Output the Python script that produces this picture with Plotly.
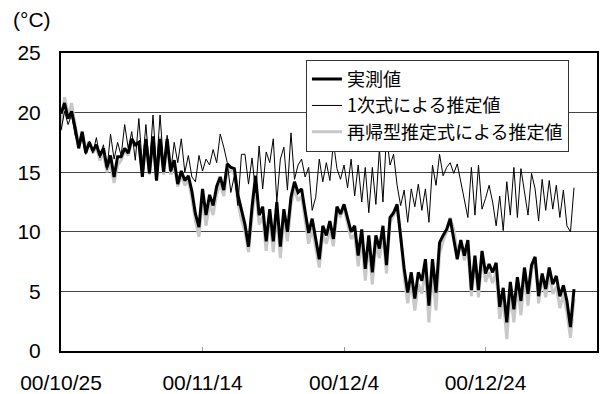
import pandas as pd
import plotly.graph_objects as go

# ---- data (2 readings per day, starting 2000-10-25) ----
measured = [
    19.9, 20.8, 19.5, 20.1, 18.7, 17.0, 18.4, 16.6, 17.5, 16.8, 17.3, 16.4, 17.0, 15.4, 16.4, 14.6, 16.3, 16.3, 17.0, 16.6,
    17.8, 17.3, 17.5, 14.6, 17.8, 14.9, 18.0, 14.3, 17.8, 15.0, 17.8, 15.1, 16.0, 14.0, 15.1, 14.3, 14.7, 13.4,
    11.5, 10.4, 13.6, 11.4, 13.1, 12.2, 13.8, 14.6, 13.5, 15.7, 15.4, 15.3, 13.1, 11.9, 10.6, 8.75, 12.1, 14.7, 11.4, 12.1,
    9.2, 11.9, 9.2, 12.5, 8.75, 11.9, 10.0, 12.9, 14.2, 13.3, 13.6, 11.7, 9.9, 11.1,
    9.4, 7.7, 10.5, 9.7, 10.9, 9.4, 12.1, 11.5, 12.3, 11.1, 10.0, 10.5, 8.0, 10.2, 6.9, 9.7, 6.6, 9.7, 8.6, 10.5,
    7.2, 11.2, 11.6, 12.3, 9.3, 6.9, 4.9, 6.6, 4.4, 6.6, 5.9, 7.7, 3.8, 7.7, 4.9, 9.1, 9.7,
    10.2, 11.1, 9.3, 7.7, 9.3, 8.0, 9.3, 5.1, 8.0, 5.1, 8.4, 6.5, 7.3, 6.6, 7.4, 3.7, 5.3, 2.4, 5.8, 3.5,
    6.2, 4.2, 7.0, 4.8, 7.2, 7.9, 4.6, 6.5, 5.2, 7.0, 5.6, 6.3, 4.6, 5.5, 4.2, 2.0, 5.2,
]
linear_est = [
    18.5, 20.1, 19.0, 19.8, 18.1, 17.2, 17.8, 16.5, 17.6, 16.6, 17.9, 16.2, 17.3, 15.2, 18.2, 16.1, 17.5, 16.4, 19.0, 17.0,
    18.4, 16.0, 19.5, 15.6, 19.0, 15.3, 19.8, 15.4, 19.8, 15.6, 18.1, 15.0, 17.5, 15.8, 17.8, 15.0, 16.4, 14.6,
    14.2, 16.4, 15.1, 16.1, 15.6, 16.9, 15.8, 18.2, 17.1, 15.8, 13.3, 14.7, 12.2, 16.5, 16.5, 14.0, 16.2, 13.3, 17.2, 13.6,
    16.7, 15.8, 17.8, 12.5, 16.1, 17.1, 13.5, 18.3, 14.4, 15.6, 16.1, 14.6, 15.4, 11.8,
    12.9, 16.1, 14.2, 15.8, 14.3, 17.5, 15.3, 14.4, 15.6, 13.7, 16.1, 13.0, 15.6, 12.5, 15.4, 11.6, 15.4, 12.3, 17.0, 12.5,
    18.1, 15.6, 16.5, 13.9, 12.2, 13.5, 10.8, 13.6, 12.1, 14.0, 11.8, 13.6, 10.8, 15.6, 13.9, 16.5, 14.7,
    15.4, 15.8, 14.9, 15.7, 14.2, 12.6, 11.2, 15.4, 11.4, 15.6, 11.9, 12.8, 13.9, 12.5, 10.5, 13.0, 10.1, 14.2, 11.4, 15.4,
    11.2, 15.3, 13.5, 11.4, 14.9, 13.6, 10.9, 14.4, 11.8, 14.3, 11.9, 13.9, 11.2, 13.5, 10.5, 10.0, 13.7,
]
recursive_est = [
    18.6, 21.3, 19.8, 20.8, 18.9, 17.4, 18.2, 16.9, 17.6, 16.6, 17.1, 16.0, 16.6, 15.0, 15.8, 14.1, 15.6, 16.0, 16.8, 16.4,
    17.6, 17.3, 17.6, 15.0, 17.6, 14.8, 17.7, 14.5, 18.0, 14.8, 17.4, 14.8, 15.6, 13.8, 14.7, 13.9, 14.3, 12.8,
    10.9, 9.6, 12.8, 10.5, 12.4, 11.4, 13.2, 14.0, 13.0, 15.2, 15.1, 14.9, 12.5, 11.0, 10.0, 8.3, 11.3, 13.9, 10.6, 11.3,
    8.4, 11.2, 8.3, 11.7, 7.8, 11.1, 9.2, 12.3, 13.6, 12.6, 13.0, 10.9, 9.0, 10.3,
    8.8, 7.0, 9.8, 9.0, 10.2, 8.8, 11.6, 11.3, 12.0, 10.7, 9.4, 9.8, 7.1, 9.4, 5.9, 9.0, 5.6, 9.0, 7.8, 9.8,
    6.5, 10.8, 11.4, 12.0, 9.8, 6.2, 4.0, 5.8, 3.4, 5.6, 4.8, 6.8, 2.4, 6.6, 3.4, 8.2, 9.2,
    10.0, 11.2, 10.2, 8.3, 9.0, 7.6, 8.6, 4.6, 7.4, 4.5, 7.8, 5.8, 6.6, 5.7, 6.6, 2.7, 4.4, 1.0, 4.8, 2.4,
    5.4, 3.0, 6.3, 3.8, 6.8, 7.7, 4.0, 6.2, 4.5, 6.4, 4.8, 5.4, 3.6, 4.8, 3.2, 1.1, 4.4,
]
tick_dates = ["2000-10-25", "2000-11-14", "2000-12-04", "2000-12-24"]
tick_labels = ["00/10/25", "00/11/14", "00/12/4", "00/12/24"]
names = ["実測値", "1次式による推定値", "再帰型推定式による推定値"]

times = pd.date_range("2000-10-25", periods=len(measured), freq="12h")

fig = go.Figure()
fig.add_trace(go.Scatter(x=times, y=recursive_est, mode="lines", name=names[2],
                         line=dict(color="#c8c8c8", width=3), legendrank=3))
fig.add_trace(go.Scatter(x=times, y=measured, mode="lines", name=names[0],
                         line=dict(color="black", width=3), legendrank=1))
fig.add_trace(go.Scatter(x=times, y=linear_est, mode="lines", name=names[1],
                         line=dict(color="black", width=1), legendrank=2))

tick_font = dict(family="Liberation Sans, Arial, sans-serif", size=21, color="black")

fig.update_layout(
    width=600, height=394,
    margin=dict(l=61, r=3, t=53, b=43),
    paper_bgcolor="white", plot_bgcolor="white",
    showlegend=True,
    legend=dict(
        x=0.457, y=0.977, xanchor="left", yanchor="top",
        bgcolor="white", bordercolor="#333", borderwidth=1,
        font=dict(family="Noto Sans CJK JP", size=18, color="black"),
        itemwidth=30, tracegroupgap=0,
    ),
    xaxis=dict(
        range=["2000-10-25", "2001-01-08 18:00"],
        tickvals=tick_dates, ticktext=tick_labels,
        showgrid=False, zeroline=False, automargin=False,
        showline=True, linecolor="black", linewidth=2, mirror=True,
        ticks="inside", ticklen=4, tickcolor="#999", tickwidth=1,
        tickfont=tick_font, ticklabelstandoff=12,
    ),
    yaxis=dict(
        range=[0, 25], tickvals=[0, 5, 10, 15, 20, 25],
        showgrid=True, gridcolor="#444", gridwidth=1, zeroline=False,
        automargin=False,
        showline=True, linecolor="black", linewidth=2, mirror=True,
        ticks="", tickfont=tick_font, ticklabelstandoff=14,
    ),
    annotations=[dict(
        text="(°C)", xref="paper", yref="paper", x=-0.054, y=1.114,
        xanchor="center", yanchor="middle", showarrow=False,
        font=tick_font,
    )],
)

fig.write_html("out.html")
